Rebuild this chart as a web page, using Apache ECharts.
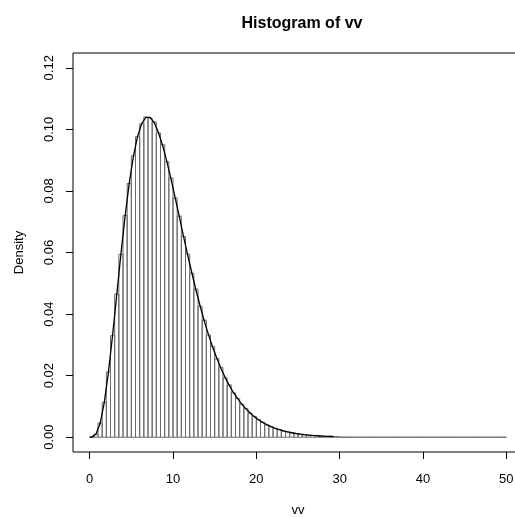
<!DOCTYPE html>
<html>
<head>
<meta charset="utf-8">
<script src="https://cdn.jsdelivr.net/npm/echarts@6/dist/echarts.min.js"></script>
<style>
html,body{margin:0;padding:0;background:#fff;}
#chart{width:515px;height:518px;}
</style>
</head>
<body>
<div id="chart"></div>
<script>
// Histogram bins: start 0, width 0.5, up to 50
var binStart = 0;
var binWidth = 0.5;
var densities = [
  0.00003, 0.0010, 0.0046, 0.0113, 0.0212, 0.0330, 0.0465, 0.0594, 0.0720, 0.0824,
  0.0914, 0.0976, 0.1018, 0.1040, 0.1036, 0.1024, 0.0988, 0.0950, 0.0895, 0.0842,
  0.0777, 0.0718, 0.0652, 0.0595, 0.0533, 0.0481, 0.0425, 0.0380, 0.0332, 0.0295,
  0.0255, 0.0226, 0.0193, 0.0170, 0.0144, 0.0126, 0.0107, 0.0093, 0.0078, 0.0068,
  0.0057, 0.0049, 0.0040, 0.0035, 0.0029, 0.0025, 0.0020, 0.0017, 0.0014, 0.0012,
  0.0010, 0.0008, 0.0007, 0.0006, 0.0005, 0.0004, 0.0003, 0.0003, 0.0002, 0.0002,
  0, 0, 0, 0, 0, 0, 0, 0, 0, 0,
  0, 0, 0, 0, 0, 0, 0, 0, 0, 0,
  0, 0, 0, 0, 0, 0, 0, 0, 0, 0,
  0, 0, 0, 0, 0, 0, 0, 0, 0, 0
];
// Density curve, sampled at bin midpoints
var curveStartY = 0;
var curveValues = [
  0.000026, 0.00095, 0.00444, 0.01123, 0.02108, 0.03313, 0.04631, 0.05951, 0.07181, 0.08253,
  0.09127, 0.09773, 0.1019, 0.1039, 0.1039, 0.1022, 0.0990, 0.0948, 0.0897, 0.0840,
  0.0779, 0.0717, 0.0654, 0.0593, 0.0535, 0.0479, 0.0427, 0.0378, 0.0334, 0.0293,
  0.0257, 0.0224, 0.01945, 0.01684, 0.01454, 0.01251, 0.01074, 0.0092, 0.00785, 0.00669,
  0.00569, 0.00482, 0.00408, 0.00345, 0.00291, 0.00245, 0.00206, 0.00173, 0.00145, 0.00121,
  0.00101, 0.00084, 0.0007, 0.00058, 0.00049, 0.0004, 0.00033, 0.00028, 0.00023
];
var xTicks = [0, 10, 20, 30, 40, 50];
var yTicks = [0, 0.02, 0.04, 0.06, 0.08, 0.10, 0.12];
var titleText = 'Histogram of vv';
var xTitle = 'vv';
var yTitle = 'Density';

var barData = densities.map(function (d, i) {
  var x0 = binStart + i * binWidth;
  return [x0, x0 + binWidth, d];
});
var curveData = [[binStart, curveStartY]].concat(curveValues.map(function (v, i) {
  return [binStart + (i + 0.5) * binWidth, v];
}));

var font = 'Liberation Sans, Arial, sans-serif';
var chart = echarts.init(document.getElementById('chart'), null, {renderer: 'canvas'});
chart.setOption({
  animation: false,
  backgroundColor: '#fff',
  title: {
    text: titleText,
    left: 297,
    top: 11,
    textAlign: 'center',
    textStyle: {fontFamily: font, fontSize: 16, fontWeight: 'bold', color: '#000'}
  },
  grid: {
    left: 73, top: 53, right: -8, bottom: 66,
    outerBoundsMode: 'none',
    containLabel: false,
    show: true, borderColor: '#000', borderWidth: 1, backgroundColor: 'transparent'
  },
  xAxis: {
    type: 'value', min: -2, max: 52,
    name: xTitle, nameLocation: 'middle', nameGap: 52,
    nameTextStyle: {fontFamily: font, fontSize: 13, color: '#000'},
    axisLine: {show: false, onZero: false},
    splitLine: {show: false},
    axisTick: {show: true, length: 7, inside: false, customValues: xTicks, lineStyle: {color: '#000'}},
    axisLabel: {customValues: xTicks, margin: 21, fontFamily: font, fontSize: 13, color: '#000'}
  },
  yAxis: {
    type: 'value', min: -0.0048, max: 0.1248,
    name: yTitle, nameLocation: 'middle', nameGap: 47,
    nameTextStyle: {fontFamily: font, fontSize: 13, color: '#000'},
    axisLine: {show: false, onZero: false},
    splitLine: {show: false},
    axisTick: {show: true, length: 7, inside: false, customValues: yTicks, lineStyle: {color: '#000'}},
    axisLabel: {
      customValues: yTicks, rotate: 90, margin: 17, fontFamily: font, fontSize: 13, color: '#000',
      formatter: function (v) { return v.toFixed(2); }
    }
  },
  series: [
    {
      type: 'custom',
      data: barData,
      renderItem: function (params, api) {
        var p0 = api.coord([api.value(0), 0]);
        var p1 = api.coord([api.value(1), api.value(2)]);
        return {
          type: 'rect',
          shape: {x: p0[0], y: p1[1], width: p1[0] - p0[0], height: p0[1] - p1[1]},
          style: {fill: 'none', stroke: '#6a6a6a', lineWidth: 1}
        };
      },
      silent: true
    },
    {
      type: 'line',
      data: curveData,
      showSymbol: false,
      lineStyle: {color: '#000', width: 1.3},
      silent: true,
      z: 5
    }
  ]
});
</script>
</body>
</html>
